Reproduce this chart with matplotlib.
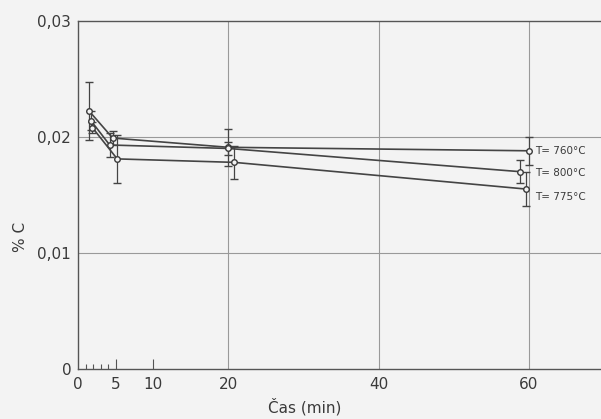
import matplotlib
matplotlib.use("Agg")
import matplotlib.pyplot as plt
from matplotlib.ticker import FixedLocator

# Data
labels = ["T= 760°C", "T= 800°C", "T= 775°C"]
x760 = [1.5, 4.6, 20.0, 60.0]
y760 = [0.0222, 0.0199, 0.0191, 0.0188]
e760 = [0.0025, 0.0006, 0.0016, 0.0012]
x800 = [1.7, 4.2, 20.0, 58.8]
y800 = [0.0214, 0.0193, 0.0190, 0.0170]
e800 = [0.0008, 0.0010, 0.0006, 0.0010]
x775 = [1.9, 5.2, 20.8, 59.6]
y775 = [0.0208, 0.0181, 0.0178, 0.0155]
e775 = [0.0005, 0.0021, 0.0014, 0.0015]
label_y = [0.0188, 0.0169, 0.0148]
xticks = [0, 5, 10, 20, 40, 60]
yticks = [0, 0.01, 0.02, 0.03]
yticklabels = ["0", "0,01", "0,02", "0,03"]

bg = "#f3f3f3"
ink = "#3a3a3a"
plt.rcParams['font.family'] = ['DejaVu Sans']
fig = plt.figure(figsize=(6.01, 4.19), dpi=100, facecolor=bg)
ax = fig.add_axes([0.13, 0.12, 0.87, 0.83], facecolor=bg)

for xs, ys, es in [(x760, y760, e760), (x800, y800, e800), (x775, y775, e775)]:
    ax.errorbar(xs, ys, yerr=es, color="#444444", lw=1.2, marker='o', ms=4,
                mfc=bg, mec=ink, mew=1.0, capsize=3, elinewidth=0.9, capthick=0.9)

for lab, ly in zip(labels, label_y):
    ax.text(60.8, ly, lab, fontsize=7.5, color=ink, va='center', ha='left')

ax.set_xlim(0, 69.6)
ax.set_ylim(0, 0.03)
ax.set_xticks(xticks)
ax.set_yticks(yticks)
ax.set_yticklabels(yticklabels)
ax.xaxis.set_minor_locator(FixedLocator([1, 2, 3, 4]))
ax.tick_params(axis='x', which='major', direction='in', length=7, width=0.8,
               color="#555555", labelsize=11, labelcolor=ink, pad=6)
ax.tick_params(axis='x', which='minor', direction='in', length=3.5, width=0.8, color="#555555")
ax.tick_params(axis='y', which='major', direction='in', length=0, labelsize=11,
               labelcolor=ink, pad=5)
for t, v in zip(ax.xaxis.get_major_ticks(), xticks):
    if v not in (5, 10):
        t.tick1line.set_visible(False)
for v in [20, 40, 60]:
    ax.axvline(v, color="#999999", lw=0.8, zorder=0)
for v in [0.01, 0.02]:
    ax.axhline(v, color="#999999", lw=0.8, zorder=0)
for s in ['left', 'bottom', 'top']:
    ax.spines[s].set_color("#555555")
    ax.spines[s].set_linewidth(1.0)
ax.spines['right'].set_visible(False)
ax.set_xlabel("Čas (min)", fontsize=11, color=ink)
ax.set_ylabel("% C", fontsize=11, color=ink)
ax.xaxis.set_label_coords(0.434, -0.085)
ax.yaxis.set_label_coords(-0.095, 0.38)

fig.savefig("out.png", dpi=100, facecolor=bg)
